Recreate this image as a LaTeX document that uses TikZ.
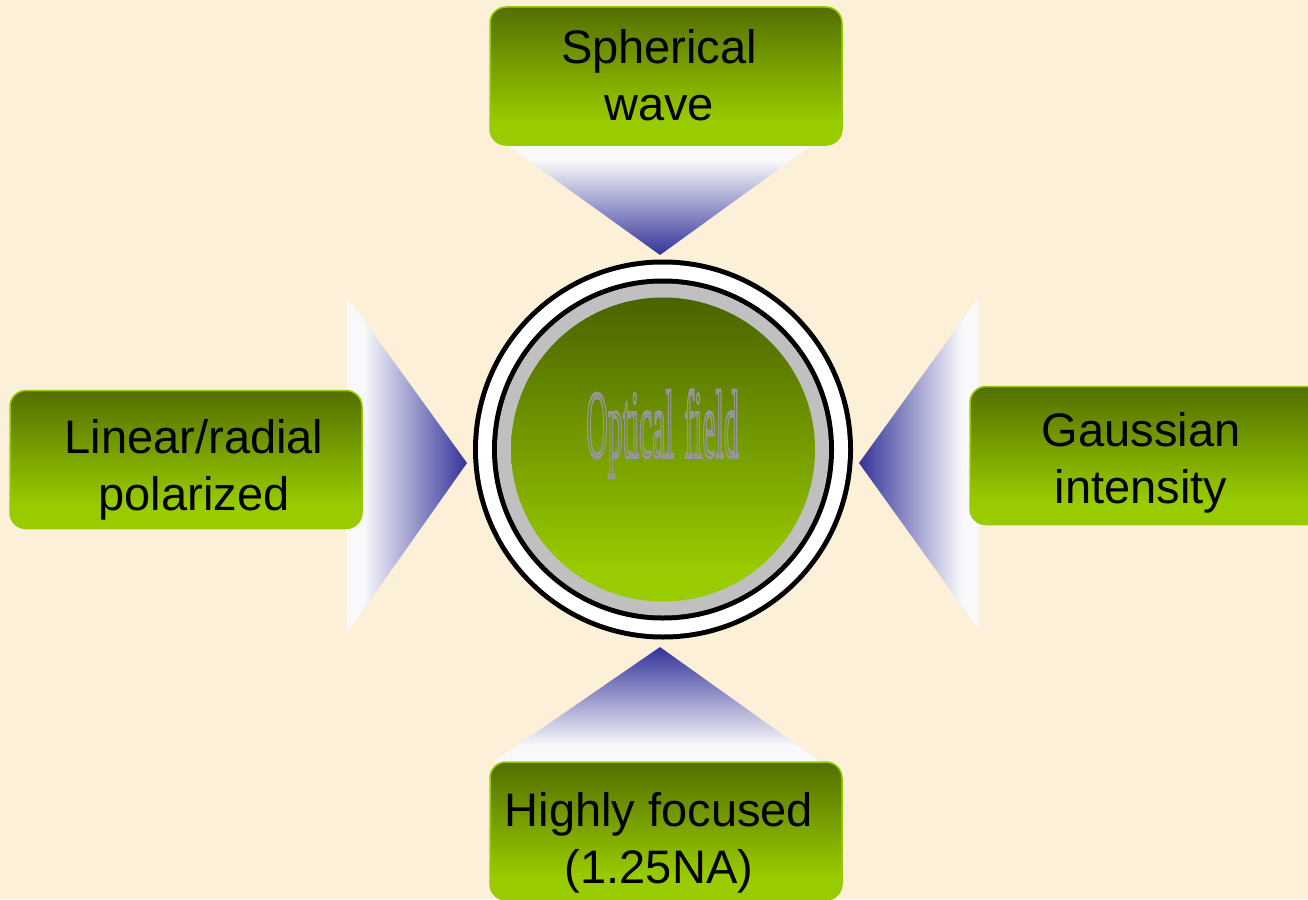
\documentclass[tikz,border=0pt]{standalone}
\usepackage{fontspec}
\usepackage{graphicx}
\setmainfont{Liberation Sans}
\newfontfamily\wordart{Liberation Serif}
\definecolor{bgc}{HTML}{FDF0D8}
\definecolor{limeg}{HTML}{99CC00}
\definecolor{oliveg}{HTML}{536F00}
\definecolor{circtop}{HTML}{4A6300}
\definecolor{arrowblue}{HTML}{333399}
\definecolor{triwhite}{HTML}{F9F9FB}
\definecolor{ringgray}{HTML}{C0C0C0}
\definecolor{txtline}{HTML}{969696}
\pgfdeclareverticalshading{boxshade}{100bp}{color(0bp)=(limeg); color(33bp)=(limeg); color(75bp)=(oliveg); color(100bp)=(oliveg)}
\pgfdeclareverticalshading{circshade}{100bp}{color(0bp)=(limeg); color(30bp)=(limeg); color(75bp)=(circtop); color(100bp)=(circtop)}
\pgfdeclareverticalshading{trishade}{100bp}{color(0bp)=(arrowblue); color(25bp)=(arrowblue); color(68bp)=(triwhite); color(100bp)=(triwhite)}
\newcommand\outlinetext[1]{\special{pdf:literal direct q 1 Tr 3.6 w}#1\special{pdf:literal direct Q}}
\begin{document}
\begin{tikzpicture}[x=1pt,y=-1pt,
  box/.style={rounded corners=16pt, draw=limeg, line width=1.5pt, shade, shading=boxshade,
    minimum width=352pt, minimum height=138pt, inner sep=0pt},
  lbl/.style={font=\fontsize{47}{57}\selectfont, align=center, text=black, inner sep=0pt},
  ctr/.style={font=\wordart\fontsize{96}{96}\selectfont, anchor=base, inner sep=0pt}]
\fill[bgc] (0,0) rectangle (1308,899);
\useasboundingbox (0,0) rectangle (1308,899);
\clip (0,0) rectangle (1308,899);

% triangles (connectors)
\shade[shading=trishade] (507,145) -- (812,145) -- (660,255) -- cycle;
\shade[shading=trishade, shading angle=180] (493,762) -- (821,762) -- (660,647) -- cycle;
\shade[shading=trishade, shading angle=90] (347,297) -- (347,633) -- (467,463) -- cycle;
\shade[shading=trishade, shading angle=-90] (979,297) -- (979,630) -- (859,463) -- cycle;

% boxes
\node[box] (nTop) at (666,76) {};
\node[box] (nLeft) at (186,459.5) {};
\node[box] (nRight) at (1146,455.5) {};
\node[box] (nBottom) at (666,831) {};

\node[lbl, anchor=base] (tTop) at (659,120) {Spherical\\wave};
\node[lbl, anchor=base] (tLeft) at (194,510) {Linear/radial\\polarized};
\node[lbl, anchor=base] (tRight) at (1141,503) {Gaussian\\intensity};
\node[lbl, anchor=base] (tBottom) at (659,883) {Highly focused\\(1.25NA)};

% central circle
\fill[black] (663,449.5) circle (190);
\fill[white] (663,449.5) circle (185);
\fill[black] (663,449.5) circle (171);
\fill[ringgray] (663,449.5) circle (166);
\node[circle, shade, shading=circshade, minimum size=304pt, inner sep=0pt] (nCenter) at (663,449.5) {};

\node[ctr, text=txtline] (cText) at (662.5,457) {\outlinetext{\scalebox{0.31}[1]{Optical\hspace{0.35em}field}}};
\end{tikzpicture}
\end{document}
